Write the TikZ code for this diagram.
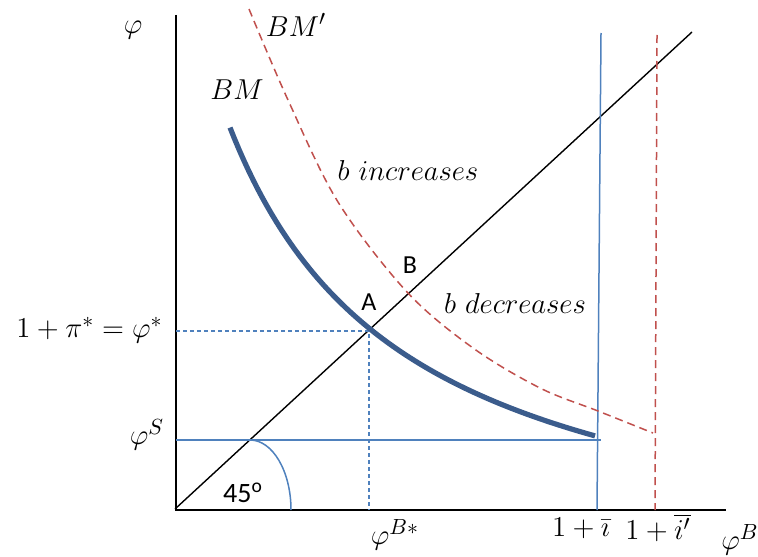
\documentclass[tikz,border=0pt]{standalone}
\usepackage{fontspec}
\newfontfamily\calibri{Carlito}
\begin{document}
\begin{tikzpicture}[x=0.5pt,y=-0.5pt,
  mlab/.style={inner sep=0pt,font=\fontsize{15}{17}\selectfont},
  slab/.style={inner sep=0pt,font=\calibri\fontsize{13}{15}\selectfont},
  axisline/.style={black,line width=1pt},
  diagline/.style={black,line width=0.7pt},
  thinblue/.style={draw={rgb,255:red,79;green,129;blue,189},line width=0.75pt},
  dashblue/.style={draw={rgb,255:red,79;green,129;blue,189},line width=0.75pt,dash pattern=on 2pt off 1.5pt},
  thickblue/.style={draw={rgb,255:red,59;green,92;blue,140},line width=2.6pt},
  dashred/.style={draw={rgb,255:red,192;green,80;blue,77},line width=0.75pt,dash pattern=on 4pt off 2.5pt}]
\useasboundingbox (0,0) rectangle (758,556);
% axes
\coordinate (ytop) at (176,15);
\coordinate (O) at (176,510);
\coordinate (xend) at (726,510);
\draw[axisline] (ytop) -- (O) -- (xend);
% 45 degree line
\coordinate (dstart) at (175,509);
\coordinate (dend) at (692,32);
\draw[diagline] (dstart) -- (dend);
% vertical limits
\coordinate (vbtop) at (601,33);
\coordinate (vbbot) at (597,510);
\draw[thinblue] (vbtop) -- (vbbot);
\coordinate (vrtop) at (657,35);
\coordinate (vrbot) at (655,510);
\draw[dashred] (vrtop) -- (vrbot);
% phi^S horizontal
\coordinate (hsl) at (176,440);
\coordinate (hsr) at (601,440);
\draw[thinblue] (hsl) -- (hsr);
% dashed projections of A
\coordinate (pl) at (176,331);
\coordinate (pA) at (369,331);
\coordinate (pb) at (369,510);
\draw[dashblue] (pl) -- (pA) -- (pb);
% 45 degree arc
\coordinate (arcstart) at (250,440);
\draw[thinblue] (arcstart) arc[start angle=-90,end angle=0,x radius=41,y radius=70];
% BM' curve
\draw[dashred] plot[smooth,tension=0.55] coordinates {(249,9) (288,100) (338,202) (407,292) (473,348) (540,388) (598,411) (653,433)};
% BM curve
\draw[thickblue] plot[domain=230:595,samples=80] (\x,{587.9-828.6/((\x-50)/100)});
% labels
\node[mlab] (lphi) at (133,30) {$\varphi$};
\node[mlab] (lbmp) at (296,25) {$BM'$};
\node[mlab] (lbm) at (237,90) {$BM$};
\node[mlab] (linc) at (408,170) {$b\ increases$};
\node[mlab] (ldec) at (515,303) {$b\ decreases$};
\node[slab] (lA) at (369,302) {A};
\node[slab] (lB) at (410,265) {B};
\node[mlab,anchor=east] (lpistar) at (163,330) {$1+\pi^{*}=\varphi^{*}$};
\node[mlab] (lphis) at (147,435) {$\varphi^{S}$};
\node[slab,font=\calibri\fontsize{14}{16}\selectfont] (l45) at (243,493) {45\textsuperscript{o}};
\node[mlab] (lphib) at (395,535) {$\varphi^{B*}$};
\node[mlab] (li) at (581,528) {$1+\bar{\imath}$};
\node[mlab] (lip) at (658,528) {$1+\overline{i'}$};
\node[mlab] (lphiB) at (740,540) {$\varphi^{B}$};
\end{tikzpicture}
\end{document}
